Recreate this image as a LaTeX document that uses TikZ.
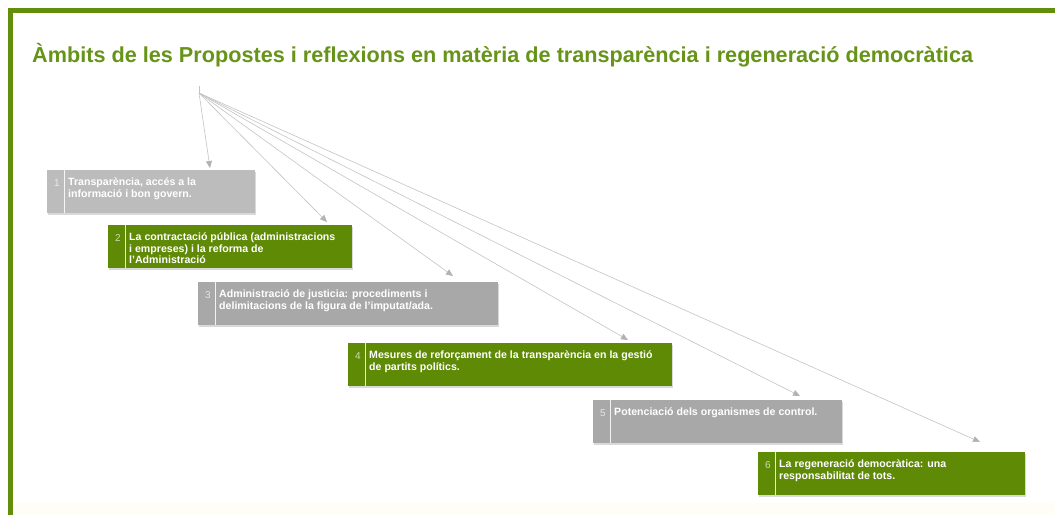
\documentclass[tikz,border=0pt]{standalone}
\usepackage{fontspec}
\setmainfont{Liberation Sans}
\usetikzlibrary{arrows.meta,shadows}
\definecolor{framegreen}{RGB}{98,142,12}
\definecolor{titlegreen}{RGB}{102,148,24}
\definecolor{boxgreen}{RGB}{95,138,5}
\definecolor{boxgrey}{RGB}{168,168,168}
\definecolor{boxlightgrey}{RGB}{188,188,188}
\definecolor{linkgrey}{RGB}{195,195,195}
\definecolor{tipgrey}{RGB}{178,178,178}
\definecolor{cream}{RGB}{254,254,246}
\begin{document}
\begin{tikzpicture}[x=1pt,y=-1pt,
   box/.style={anchor=north west,minimum height=43pt,inner sep=0pt,
      drop shadow={shadow xshift=1pt,shadow yshift=-1.5pt,opacity=.3}},
   greybox/.style={box,fill=boxgrey},
   greenbox/.style={box,fill=boxgreen},
   number/.style={anchor=base west,inner sep=0pt,text=white,text opacity=.7,
      font=\fontsize{10}{11}\selectfont},
   ambit/.style={anchor=north west,align=left,inner sep=0pt,text=white,
      font=\fontsize{10.6}{11.5}\selectfont\bfseries},
   divider/.style={draw=white,line width=.8pt,draw opacity=.85},
   link/.style={draw=linkgrey,line width=.6pt,
      -{Triangle[length=7pt,width=6pt,color=tipgrey]}}]
\useasboundingbox (0,0) rectangle (1055,515);
\fill[cream] (13,503) rectangle (1055,515);
\fill[framegreen] (8,8) rectangle (1055,13);
\fill[framegreen] (8,8) rectangle (13,515);
\node[anchor=base west,inner sep=0pt,text=titlegreen,
   font=\fontsize{21.65}{24}\selectfont\bfseries] (title) at (32,62)
   {Àmbits de les Propostes i reflexions en matèria de transparència i regeneració democràtica};

\node[box,fill=boxlightgrey,minimum width=208pt] (b1) at (47,170) {};
\node[greenbox,minimum width=244pt] (b2) at (108,225) {};
\node[greybox,minimum width=300pt] (b3) at (198,282) {};
\node[greenbox,minimum width=324pt] (b4) at (348,343) {};
\node[greybox,minimum width=249pt] (b5) at (593,400) {};
\node[greenbox,minimum width=267pt] (b6) at (758,452) {};

\foreach \b in {1,...,6}{
  \draw[divider] ([xshift=17pt]b\b.north west) -- ([xshift=17pt]b\b.south west);
  \node[number] (n\b) at ([xshift=7pt,yshift=-16pt]b\b.north west) {\b};
}

\node[ambit] (a1) at ([xshift=21pt,yshift=-8pt]b1.north west)
   {Transparència, accés a la\\informació i bon govern.};
\node[ambit] (a2) at ([xshift=21pt,yshift=-8pt]b2.north west)
   {La contractació pública (administracions\\i empreses) i la reforma de\\l’Administració};
\node[ambit] (a3) at ([xshift=21pt,yshift=-8pt]b3.north west)
   {Administració de justicia: procediments i\\delimitacions de la figura de l'imputat/ada.};
\node[ambit] (a4) at ([xshift=21pt,yshift=-8pt]b4.north west)
   {Mesures de reforçament de la transparència en la gestió\\de partits polítics.};
\node[ambit] (a5) at ([xshift=21pt,yshift=-8pt]b5.north west)
   {Potenciació dels organismes de control.};
\node[ambit] (a6) at ([xshift=21pt,yshift=-8pt]b6.north west)
   {La regeneració democràtica: una\\responsabilitat de tots.};

\coordinate (stem) at (199,86);
\coordinate (hub) at (199,93);
\coordinate (t1) at (210,168);
\coordinate (t2) at (327,222);
\coordinate (t3) at (453,276);
\coordinate (t4) at (628,340);
\coordinate (t5) at (800,396);
\coordinate (t6) at (980,442);
\draw[draw=linkgrey,line width=.6pt] (stem) -- (hub);
\foreach \t in {1,...,6}
  \draw[link] (hub) -- (t\t);
\end{tikzpicture}
\end{document}
